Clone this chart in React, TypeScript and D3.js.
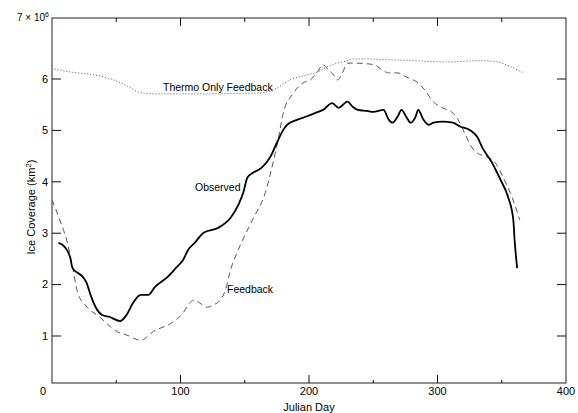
import * as d3 from "d3";
import { useEffect, useRef } from "react";

// observed ice coverage (10^6 km^2) vs julian day
const observedDay = [5, 10, 14, 16, 20, 24, 27, 30, 34, 39, 45, 53, 58, 63, 69, 75, 80, 90, 97, 102, 106, 111, 118, 129, 139, 145, 149, 152, 156, 163, 170, 175, 180, 183, 191, 198, 206, 211, 218, 223, 230, 234, 238, 245, 250, 258, 262, 265, 269, 272, 276, 279, 283, 285, 289, 293, 297, 304, 312, 318, 325, 331, 335, 342, 349, 355, 359, 360, 362];
const observedIce = [2.81, 2.73, 2.54, 2.32, 2.23, 2.15, 2.03, 1.8, 1.56, 1.41, 1.37, 1.29, 1.41, 1.64, 1.8, 1.8, 1.95, 2.15, 2.34, 2.48, 2.68, 2.81, 3.01, 3.1, 3.3, 3.55, 3.8, 4.08, 4.17, 4.27, 4.49, 4.76, 5.01, 5.11, 5.21, 5.27, 5.35, 5.4, 5.53, 5.44, 5.56, 5.46, 5.4, 5.38, 5.36, 5.4, 5.21, 5.15, 5.27, 5.4, 5.25, 5.15, 5.27, 5.4, 5.21, 5.11, 5.15, 5.17, 5.15, 5.07, 5.01, 4.87, 4.66, 4.39, 4.04, 3.7, 3.26, 2.87, 2.32];

// model with feedback
const feedbackDay = [0, 6, 12, 16, 20, 26, 37, 51, 58, 69, 79, 94, 102, 107, 111, 115, 121, 125, 131, 135, 139, 145, 156, 166, 172, 176, 180, 188, 195, 201, 206, 211, 215, 219, 222, 226, 230, 236, 245, 251, 257, 262, 269, 276, 284, 290, 297, 304, 311, 316, 321, 327, 331, 339, 345, 351, 358, 364];
const feedbackIce = [3.65, 3.26, 2.81, 2.34, 1.84, 1.6, 1.37, 1.08, 1.02, 0.91, 1.09, 1.27, 1.45, 1.64, 1.7, 1.64, 1.56, 1.6, 1.7, 1.9, 2.29, 2.68, 3.26, 3.79, 4.37, 4.82, 5.34, 5.73, 5.92, 5.98, 6.1, 6.23, 6.15, 6.07, 5.98, 6.1, 6.26, 6.26, 6.25, 6.23, 6.15, 6.1, 6.1, 6.03, 5.94, 5.79, 5.55, 5.44, 5.36, 5.21, 4.95, 4.66, 4.56, 4.48, 4.37, 4.09, 3.7, 3.26];

// thermodynamic feedback only
const thermoDay = [2, 16, 32, 48, 59, 69, 84, 115, 162, 175, 185, 195, 206, 214, 222, 230, 234, 271, 307, 333, 346, 354, 362, 367];
const thermoIce = [6.16, 6.11, 6.07, 5.98, 5.86, 5.73, 5.71, 5.71, 5.73, 5.82, 5.98, 6.05, 6.11, 6.2, 6.26, 6.3, 6.33, 6.31, 6.28, 6.3, 6.28, 6.23, 6.15, 6.1];

const xTickLabels = [100, 200, 300, 400];
const xTicks = [50, 100, 150, 200, 250, 300, 350];
const yTickLabels = [1, 2, 3, 4, 5, 6];

const font = "'Liberation Sans', Arial, sans-serif";

const App = () => {
	const chartRef = useRef<SVGSVGElement>(null);

	useEffect(() => {
		const svg = d3.select(chartRef.current);
		svg.selectAll("*").remove();

		const x = d3.scaleLinear().domain([0, 400]).range([52, 566]);
		// the scanned axis is a bit stretched between 6 and 7, follow the printed ticks
		const y = d3.scaleLinear().domain([0, 1, 6, 7]).range([383, 336, 79, 18]);

		svg.append("rect")
			.attr("x", x(0)).attr("y", y(7))
			.attr("width", x(400) - x(0)).attr("height", y(0) - y(7))
			.attr("fill", "none").attr("stroke", "#222").attr("stroke-width", 1);

		// ticks on all four sides, pointing inwards
		const tickLen = (d: number, side: string) => d % 100 === 0 ? 8 : (side === "top" ? 4 : 3);

		svg.selectAll(".tb")
			.data(xTicks)
			.enter()
			.append("line")
			.attr("x1", d => x(d)).attr("x2", d => x(d))
			.attr("y1", y(0)).attr("y2", d => y(0) - tickLen(d, "bottom"))
			.attr("stroke", "#111").attr("stroke-width", 1);

		svg.selectAll(".tt")
			.data(xTicks)
			.enter()
			.append("line")
			.attr("x1", d => x(d)).attr("x2", d => x(d))
			.attr("y1", y(7)).attr("y2", d => y(7) + tickLen(d, "top"))
			.attr("stroke", "#111").attr("stroke-width", 1);

		svg.selectAll(".tl")
			.data(yTickLabels)
			.enter()
			.append("line")
			.attr("x1", x(0)).attr("x2", x(0) + 9)
			.attr("y1", d => y(d)).attr("y2", d => y(d))
			.attr("stroke", "#111").attr("stroke-width", 1);

		svg.selectAll(".tr")
			.data(yTickLabels)
			.enter()
			.append("line")
			.attr("x1", x(400)).attr("x2", x(400) - 9)
			.attr("y1", d => y(d)).attr("y2", d => y(d))
			.attr("stroke", "#111").attr("stroke-width", 1);

		const text = svg.append("g").attr("font-family", font).attr("fill", "#000");

		text.selectAll(".ylab")
			.data(yTickLabels)
			.enter()
			.append("text")
			.attr("x", x(0) - 4)
			.attr("y", d => y(d))
			.attr("dy", "0.35em")
			.attr("text-anchor", "end")
			.attr("font-size", 11)
			.text(d => d);

		text.selectAll(".xlab")
			.data(xTickLabels)
			.enter()
			.append("text")
			.attr("x", d => x(d))
			.attr("y", y(0) + 12)
			.attr("text-anchor", "middle")
			.attr("font-size", 11)
			.text(d => d);

		text.append("text")
			.attr("x", x(0) - 9).attr("y", y(0) + 12)
			.attr("text-anchor", "middle").attr("font-size", 11)
			.text("0");

		const top = text.append("text")
			.attr("x", x(0) - 3).attr("y", y(7) + 3)
			.attr("text-anchor", "end").attr("font-size", 10);
		top.append("tspan").text("7 \u00d7 10");
		top.append("tspan").attr("dy", -4).attr("font-size", 7).text("6");

		text.append("text")
			.attr("x", x(200)).attr("y", 411)
			.attr("text-anchor", "middle").attr("font-size", 11)
			.text("Julian Day");

		const ylab = text.append("text")
			.attr("transform", "translate(35,207) rotate(-90)")
			.attr("text-anchor", "middle").attr("font-size", 11);
		ylab.append("tspan").text("Ice Coverage (km");
		ylab.append("tspan").attr("dy", -4).attr("font-size", 8).text("2");
		ylab.append("tspan").attr("dy", 4).text(")");

		const line = d3.line<[number, number]>()
			.x(d => x(d[0]))
			.y(d => y(d[1]))
			.curve(d3.curveMonotoneX);

		svg.append("path")
			.datum(thermoDay.map((d, i) => [d, thermoIce[i]] as [number, number]))
			.attr("d", line)
			.attr("fill", "none")
			.attr("stroke", "#555")
			.attr("stroke-width", 1)
			.attr("stroke-dasharray", "1,2");

		svg.append("path")
			.datum(feedbackDay.map((d, i) => [d, feedbackIce[i]] as [number, number]))
			.attr("d", line)
			.attr("fill", "none")
			.attr("stroke", "#555")
			.attr("stroke-width", 1)
			.attr("stroke-dasharray", "6,4");

		svg.append("path")
			.datum(observedDay.map((d, i) => [d, observedIce[i]] as [number, number]))
			.attr("d", line)
			.attr("fill", "none")
			.attr("stroke", "#000")
			.attr("stroke-width", 1.8);

		// series labels
		text.append("text").attr("x", 163).attr("y", 91).attr("font-size", 10.5).text("Thermo Only Feedback");
		text.append("text").attr("x", 195).attr("y", 191).attr("font-size", 10.5).text("Observed");
		text.append("text").attr("x", 227).attr("y", 293).attr("font-size", 10.5).text("Feedback");
	}, []);

	return (
		<svg ref={chartRef} width={578} height={413}
			style={{ position: "absolute", left: 0, top: 0, background: "#fff" }} />
	);
};

export default App;
